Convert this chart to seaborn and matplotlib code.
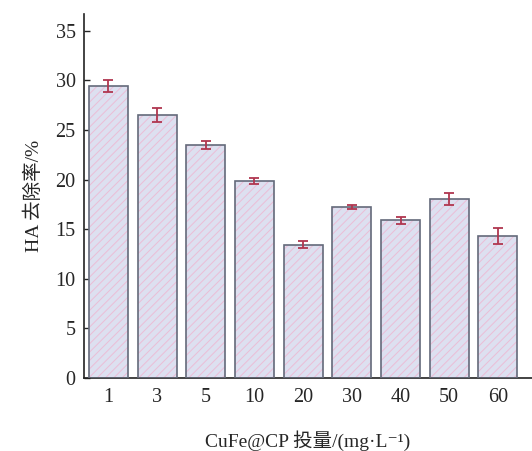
import matplotlib
matplotlib.use("Agg")
import matplotlib.pyplot as plt
from matplotlib.patches import Rectangle
import seaborn as sns
import pandas as pd
import numpy as np

doses = ["1", "3", "5", "10", "20", "30", "40", "50", "60"]
removal = [29.45, 26.5, 23.5, 19.9, 13.45, 17.2, 15.9, 18.05, 14.3]
errors = [0.6, 0.7, 0.4, 0.3, 0.35, 0.2, 0.35, 0.6, 0.8]

sns.set_theme(style="ticks")
plt.rcParams['font.family'] = ['Liberation Serif', 'Noto Sans CJK SC', 'DejaVu Sans']
plt.rcParams['hatch.linewidth'] = 0.7

df = pd.DataFrame({"dose": doses, "removal": removal})

fig = plt.figure(figsize=(5.32, 4.51), dpi=100)
ax = fig.add_axes([0.158, 0.162, 0.842, 0.807])

sns.barplot(data=df, x="dose", y="removal", order=doses, color="#dde0f0",
            saturation=1, width=0.8, edgecolor="#ebbdd6", linewidth=0,
            errorbar=None, ax=ax)
for p in list(ax.patches):
    p.set_hatch("////")
    ax.add_patch(Rectangle(p.get_xy(), p.get_width(), p.get_height(),
                           fill=False, edgecolor="#646a7a", linewidth=1.2, zorder=3))

ax.errorbar(np.arange(len(doses)), removal, yerr=errors, fmt="none",
            ecolor="#b0364f", elinewidth=1.3, capsize=3.5, capthick=1.3, zorder=5)

ax.set_xlim(-0.5, 8.7)
ax.set_ylim(0, 36.7)
ax.set_yticks(range(0, 36, 5))
ax.tick_params(axis="y", direction="in", length=4, width=1, labelsize=14.5, pad=6)
ax.tick_params(axis="x", length=0, labelsize=14.5, pad=7)
for s in ["top", "right"]:
    ax.spines[s].set_visible(False)
for s in ["left", "bottom"]:
    ax.spines[s].set_linewidth(1.2)
    ax.spines[s].set_color("#222222")

ax.set_xlabel("CuFe@CP 投量/(mg·L⁻¹)", fontsize=14, labelpad=17)
ax.set_ylabel("HA 去除率/%", fontsize=14, labelpad=9)

fig.savefig("out.png", dpi=100)
